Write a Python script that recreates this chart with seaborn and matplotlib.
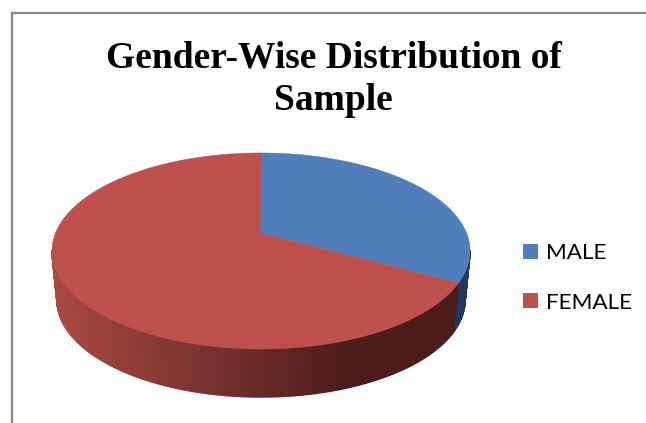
import matplotlib
matplotlib.use("Agg")
import matplotlib.pyplot as plt
import numpy as np
import seaborn as sns
from matplotlib.patches import Patch

# data
labels = ["MALE", "FEMALE"]
values = [33, 67]
title = "Gender-Wise Distribution of\nSample"

top_colors = ["#4F7EBB", "#BE504D"]
side_blue = "#1F3A5C"
side_red_light = "#A84A42"
side_red_dark = "#4B1C1A"

sns.set_theme(style="white")

# pie geometry in pixels
cx, cy, a, b = 261, 251, 209, 98
cx2, cy2, a2, b2 = 261, 300, 204, 97
v0 = 0.184  # apex sits above the ellipse centre because of the perspective


def persp(theta):
    u = np.sin(theta)
    v = np.cos(theta)
    d = 1 + v0 * v
    return u * np.sqrt(1 - v0**2) / d, (v + v0) / d


def top_edge(theta):
    u, v = persp(theta)
    return cx + a * u, cy - b * v


def bottom_edge(theta):
    u, v = persp(theta)
    return cx2 + a2 * u, cy2 - b2 * v


fig = plt.figure(figsize=(6.46, 4.23), dpi=100)
ax = fig.add_axes([0, 0, 1, 1])
ax.set_xlim(0, 646)
ax.set_ylim(423, 0)
ax.axis("off")

# chart border, only top and left are in the crop
ax.plot([11.5, 11.5, 646], [423, 13, 13], color="#868686", lw=1.6, solid_joinstyle="miter")

edges = np.cumsum([0] + values) / sum(values) * 2 * np.pi

# side wall
shades = sns.blend_palette([side_red_light, side_red_dark], 300)
thetas = np.radians(np.arange(0, 360.5, 0.5))
for t0, t1 in zip(thetas[:-1], thetas[1:]):
    if persp(t0)[1] > 0.01 and persp(t1)[1] > 0.01:
        continue
    xa, ya = top_edge(np.array([t0, t1]))
    xb, yb = bottom_edge(np.array([t0, t1]))
    if t0 < edges[1]:
        col = side_blue
    else:
        col = shades[int(np.clip(xa.mean() - 52, 0, 299))]
    ax.fill([xa[0], xa[1], xb[1], xb[0]], [ya[0], ya[1], yb[1], yb[0]], color=col, lw=1)

# top face
for i in range(len(values)):
    ts = np.linspace(edges[i], edges[i + 1], 300)
    xs, ys = top_edge(ts)
    xs = np.concatenate([[cx - 1], xs])
    ys = np.concatenate([[cy - b * v0], ys])
    ax.fill(xs, ys, color=top_colors[i], lw=0.4)

ax.text(333.5, 117.5, title, ha="center", va="bottom", family="Liberation Serif",
        weight="bold", fontsize=27, color="black", linespacing=1.26)

handles = [Patch(facecolor=c, edgecolor="none") for c in top_colors]
ax.legend(handles, labels, loc="center left", bbox_to_anchor=(523 / 646, 1 - 278 / 423),
          frameon=False, prop={"family": "Lato", "size": 16.2}, handlelength=0.67, handleheight=0.67,
          handletextpad=0.35, labelspacing=1.29, borderaxespad=0, borderpad=0, labelcolor="black")

fig.savefig("out.png", dpi=100)
